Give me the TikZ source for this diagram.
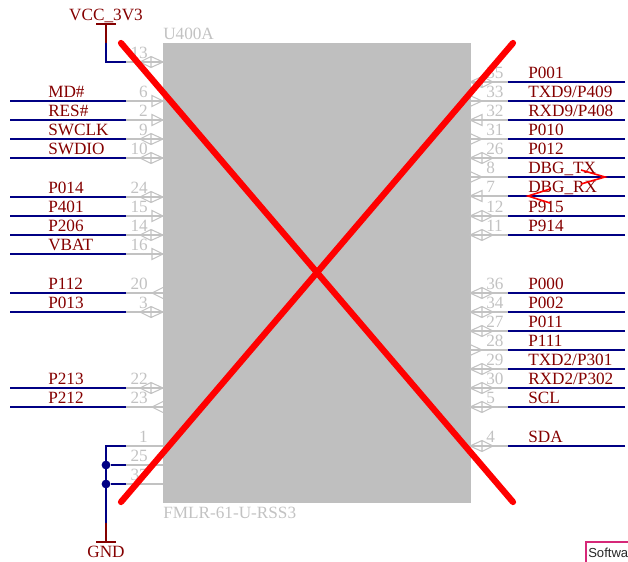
\documentclass[tikz,border=0pt]{standalone}
\usepackage{fontspec}
\setmainfont{Liberation Serif}
\newfontfamily\boxfont{Liberation Sans}
\definecolor{wireblue}{RGB}{0,0,132}
\definecolor{netred}{RGB}{132,0,0}
\definecolor{pingray}{RGB}{194,194,194}
\definecolor{bodygray}{RGB}{191,191,191}
\definecolor{boxpink}{RGB}{214,40,120}
\tikzset{
  wire/.style={draw=wireblue,line width=1.8},
  pinline/.style={draw=pingray,line width=1.4},
  pinmark/.style={draw=pingray,line width=0.8},
  powerline/.style={draw=netred,line width=1.8},
  netlabel/.style={inner sep=0,anchor=base west,text=netred,font=\fontsize{12.9}{14}\selectfont},
  pinnum/.style={inner sep=0,text=pingray,font=\fontsize{12.9}{14}\selectfont},
  crossline/.style={draw=red,line width=4.7,line cap=round},
  tipline/.style={draw=red,line width=1.2},
  dot/.style={circle,fill=wireblue,inner sep=0,minimum size=6.6}
}
\newcommand{\markL}[2]{%
  \ifnum#2=1 \draw[pinmark] (152,#1-5.5) -- (163,#1) -- (152,#1+5.5) -- cycle;\fi
  \ifnum#2=2 \draw[pinmark] (163,#1-5.5) -- (152,#1) -- (163,#1+5.5);\fi
  \ifnum#2=3 \draw[pinmark] (151,#1-5.5) -- (163,#1) -- (151,#1+5.5) -- (140,#1) -- cycle (151,#1-5.5) -- (151,#1+5.5);\fi}
\newcommand{\markR}[2]{%
  \ifnum#2=1 \draw[pinmark] (470,#1-5.5) -- (482,#1) -- (470,#1+5.5);\fi
  \ifnum#2=2 \draw[pinmark] (482,#1-5.5) -- (470,#1) -- (482,#1+5.5) -- cycle;\fi
  \ifnum#2=3 \draw[pinmark] (482,#1-5.5) -- (470,#1) -- (482,#1+5.5) -- (493,#1) -- cycle (482,#1-5.5) -- (482,#1+5.5);\fi}
\newcommand{\pinL}[5]{%
  \coordinate (L#1a) at (10,#2);
  \coordinate (L#1b) at (126,#2);
  \coordinate (L#1c) at (163,#2);
  \draw[pinline] (L#1b) -- (L#1c);
  \draw[wire] (L#1a) -- (L#1b);
  \markL{#2}{#5}
  \node[pinnum,anchor=base east] (LN#1) at (148,#2-4) {#3};
  \node[netlabel] (LT#1) at (48,#2-4) {#4};}
\newcommand{\pinR}[5]{%
  \coordinate (R#1a) at (625,#2);
  \coordinate (R#1b) at (508,#2);
  \coordinate (R#1c) at (470,#2);
  \draw[pinline] (R#1b) -- (R#1c);
  \draw[wire] (R#1a) -- (R#1b);
  \markR{#2}{#5}
  \node[pinnum,anchor=base west] (RN#1) at (486,#2-4) {#3};
  \node[netlabel] (RT#1) at (528,#2-4) {#4};}
\begin{document}
\begin{tikzpicture}[x=0.75pt,y=-0.75pt]
\useasboundingbox (0,0) rectangle (628,561);
\node[draw=none,fill=bodygray,inner sep=0,minimum width=0.75pt*308,minimum height=0.75pt*460,anchor=north west] (body) at (163,43) {};
\node[pinnum,anchor=base west] (refdes) at (163,39) {U400A};
\node[pinnum,anchor=base west] (partno) at (163,518) {FMLR-61-U-RSS3};

\pinL{a}{101}{6}{MD\#}{1}
\pinL{b}{120}{2}{RES\#}{1}
\pinL{c}{139}{9}{SWCLK}{3}
\pinL{d}{158}{10}{SWDIO}{3}
\pinL{e}{197}{24}{P014}{3}
\pinL{f}{216}{15}{P401}{1}
\pinL{g}{235}{14}{P206}{3}
\pinL{h}{254}{16}{VBAT}{1}
\pinL{i}{293}{20}{P112}{2}
\pinL{j}{312}{3}{P013}{3}
\pinL{k}{388}{22}{P213}{3}
\pinL{l}{407}{23}{P212}{2}

\pinR{a}{82}{35}{P001}{3}
\pinR{b}{101}{33}{TXD9/P409}{1}
\pinR{c}{120}{32}{RXD9/P408}{2}
\pinR{d}{139}{31}{P010}{1}
\pinR{e}{158}{26}{P012}{3}
\pinR{f}{177}{8}{DBG\_TX}{1}
\pinR{g}{196}{7}{DBG\_RX}{2}
\pinR{h}{216}{12}{P915}{3}
\pinR{i}{235}{11}{P914}{3}
\pinR{j}{293}{36}{P000}{3}
\pinR{k}{312}{34}{P002}{3}
\pinR{l}{331}{27}{P011}{3}
\pinR{m}{350}{28}{P111}{1}
\pinR{n}{369}{29}{TXD2/P301}{3}
\pinR{o}{388}{30}{RXD2/P302}{3}
\pinR{p}{407}{5}{SCL}{3}
\pinR{q}{446}{4}{SDA}{3}

% VCC
\coordinate (vccbarl) at (96,24);
\coordinate (vccbarr) at (116,24);
\coordinate (vcctop) at (106,24);
\coordinate (vccmid) at (106,43);
\coordinate (vccbot) at (106,62);
\coordinate (p13b) at (126,62);
\coordinate (p13c) at (163,62);
\draw[pinline] (p13b) -- (p13c);
\draw[powerline] (vccbarl) -- (vccbarr) (vcctop) -- (vccmid);
\draw[wire] (vccmid) -- (vccbot) -- (p13b);
\markL{62}{3}
\node[pinnum,anchor=base east] (n13) at (148,58) {13};
\node[netlabel,anchor=base] (vcc) at (106,20) {VCC\_3V3};

% GND
\coordinate (g1b) at (126,446);
\coordinate (g1c) at (163,446);
\coordinate (g2b) at (126,465);
\coordinate (g2c) at (163,465);
\coordinate (g3b) at (126,484);
\coordinate (g3c) at (163,484);
\coordinate (gndtop) at (106,446);
\coordinate (gndmid) at (106,523);
\coordinate (gndbot) at (106,542);
\coordinate (gndbarl) at (96,542);
\coordinate (gndbarr) at (116,542);
\draw[pinline] (g1b) -- (g1c) (g2b) -- (g2c) (g3b) -- (g3c);
\node[pinnum,anchor=base east] (n1) at (148,442) {1};
\node[pinnum,anchor=base east] (n25) at (148,461) {25};
\node[pinnum,anchor=base east] (n37) at (148,480) {37};
\node[dot] (j1) at (106,465) {};
\node[dot] (j2) at (106,484) {};
\draw[wire] (g1b) -- (gndtop) -- (gndmid);
\draw[wire] (j1) -- (g2b);
\draw[wire] (j2) -- (g3b);
\draw[powerline] (gndmid) -- (gndbot) (gndbarl) -- (gndbarr);
\node[netlabel,anchor=base] (gnd) at (106,557) {GND};

% red cross
\coordinate (xa) at (121,43);
\coordinate (xb) at (513,502);
\coordinate (xc) at (513,43);
\coordinate (xd) at (121,502);
\draw[crossline] (xa) -- (xb);
\draw[crossline] (xc) -- (xd);

% red tips
\coordinate (ta) at (581,170);
\coordinate (tb) at (605,177);
\coordinate (tc) at (581,184);
\coordinate (td) at (550,189);
\coordinate (te) at (528,196);
\coordinate (tf) at (550,203);
\draw[tipline] (ta) -- (tb) -- (tc);
\draw[tipline] (td) -- (te) -- (tf);

% clipped sheet box
\coordinate (sa) at (586,563);
\coordinate (sb) at (586,542);
\coordinate (sc) at (630,542);
\draw[boxpink,line width=1] (sa) -- (sb) -- (sc);
\node[inner sep=0,anchor=base west,text=black!85,font=\boxfont\fontsize{9.8}{11}\selectfont] (soft) at (588,557) {Softwa};
\end{tikzpicture}
\end{document}
